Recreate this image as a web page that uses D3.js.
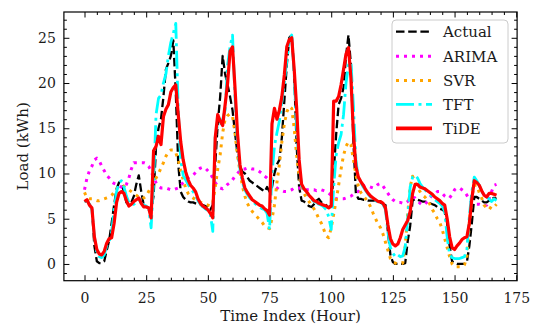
<!DOCTYPE html>
<html><head><meta charset="utf-8">
<script src="https://cdn.jsdelivr.net/npm/d3@7"></script>
<style>
body{margin:0;background:#fff}
svg{display:block}
text{font-family:"DejaVu Serif",serif;fill:#1a1a1a}
</style>
</head><body>
<svg id="c" width="533" height="327"></svg>
<script>
const hours = d3.range(168);
const actual = [
6.9,7.0,6.6,6.3,2.0,0.3,0.1,0.1,0.3,1.5,
2.6,4.5,6.5,8.3,9.0,8.8,8.0,6.8,6.5,6.8,
7.5,8.8,9.8,8.0,6.5,6.3,6.2,6.0,7.5,13.0,
15.0,16.0,18.5,21.5,22.2,23.0,24.7,19.0,11.0,8.0,
7.4,7.1,6.9,6.8,6.8,6.7,6.6,6.6,6.5,6.4,
6.3,6.0,6.5,11.0,15.5,18.5,23.0,21.0,19.8,18.5,
17.0,14.5,12.2,10.8,10.2,10.0,9.6,9.2,9.0,8.8,
8.6,8.4,8.2,8.0,8.5,8.0,8.5,10.0,11.0,11.5,
14.0,18.0,22.0,25.0,25.3,21.0,13.0,8.5,7.0,6.9,
6.6,6.4,6.3,6.6,7.0,7.2,6.8,6.7,6.5,6.2,
6.5,10.0,14.3,17.6,18.3,19.5,23.0,25.3,22.0,13.5,
7.8,7.2,7.2,7.1,7.1,7.0,7.0,7.0,7.0,6.9,
6.8,6.6,6.5,3.5,1.0,0.2,0.0,0.0,0.0,0.0,
0.1,2.5,4.2,7.0,7.2,7.1,7.0,6.9,6.9,6.8,
6.7,6.6,6.5,6.3,6.1,6.0,5.8,4.5,2.0,0.3,
0.1,0.0,0.0,0.0,0.0,0.2,2.0,4.5,7.4,7.4,
7.2,7.0,6.8,6.8,7.0,7.2,7.3,7.2];
const arima = [
8.2,9.5,10.3,10.8,11.5,11.7,11.4,10.8,10.3,9.8,
9.5,9.1,8.9,8.8,8.6,8.5,8.4,8.8,9.5,10.5,
11.2,11.2,11.2,11.2,11.2,11.1,10.8,10.3,9.5,9.0,
8.6,8.4,8.4,8.4,8.3,8.2,8.2,8.3,8.4,8.7,
9.0,9.3,9.5,9.7,9.8,10.1,10.4,10.6,10.7,10.6,
10.3,10.0,9.5,9.0,8.6,8.4,8.3,8.5,8.8,9.0,
9.3,9.7,10.0,10.3,10.5,10.5,10.6,10.6,10.5,10.5,
10.4,10.2,10.0,9.7,9.5,9.2,8.9,8.6,8.4,8.2,
8.1,8.0,8.0,8.1,8.2,8.4,8.4,8.4,8.3,8.2,
8.2,8.2,8.2,8.2,8.1,8.2,8.2,8.1,8.0,7.8,
7.6,7.4,7.2,7.2,7.2,7.2,7.3,7.4,7.5,7.7,
7.9,8.0,8.4,8.6,8.7,8.6,8.5,8.4,8.5,8.8,
8.9,8.6,8.2,7.8,7.4,7.1,6.9,6.8,6.8,6.7,
6.7,6.9,7.2,7.4,7.3,7.0,6.7,6.5,6.6,6.9,
7.3,7.6,7.8,8.0,8.0,7.8,7.5,7.3,7.3,7.7,
8.2,8.4,8.4,8.2,8.0,7.6,7.1,6.8,6.6,6.6,
6.6,6.5,6.4,6.5,7.2,8.0,8.7,8.8];
const svr = [
7.9,7.3,7.2,7.2,7.1,7.0,7.0,7.1,7.2,7.3,
7.4,7.6,7.9,8.3,8.6,8.7,8.6,8.4,8.2,8.0,
7.8,7.6,7.4,7.2,7.3,7.5,8.0,8.5,9.0,9.5,
10.0,10.6,11.2,11.9,12.4,12.6,12.6,12.3,11.5,10.3,
9.3,8.4,7.8,7.5,7.3,7.1,6.9,6.8,6.7,6.6,
6.5,6.4,6.8,8.5,10.5,12.1,14.5,16.0,16.4,16.6,
16.3,14.5,12.0,10.3,8.6,7.5,6.7,6.2,5.8,5.5,
5.2,4.9,4.6,4.2,4.0,3.9,5.0,6.5,9.0,11.0,
13.5,15.5,16.8,17.4,17.2,15.0,12.0,9.8,8.5,7.8,
7.3,6.9,6.5,6.1,5.6,5.0,4.5,3.8,3.1,2.9,
4.0,5.5,7.0,8.7,10.5,12.0,13.0,13.5,13.2,11.5,
9.9,8.6,7.9,7.5,7.2,6.8,6.3,5.6,5.0,4.4,
4.0,3.3,2.4,1.5,0.6,0.2,0.1,0.0,0.0,0.1,
2.0,5.5,8.5,9.7,9.0,8.4,8.0,7.6,7.4,7.0,
6.6,6.0,5.6,5.0,4.6,3.8,2.8,1.8,0.8,0.0,
-0.3,-0.3,-0.3,-0.3,-0.1,0.7,4.5,7.4,8.7,8.7,
7.9,7.3,6.5,6.2,6.0,6.4,6.3,6.6];
const tft = [
6.9,7.0,6.6,6.0,3.0,1.2,0.8,0.7,1.0,2.0,
2.5,3.5,6.0,8.0,9.0,9.2,8.5,7.5,6.8,6.5,
6.6,6.8,7.2,6.7,6.5,6.4,6.2,4.0,9.0,16.5,
18.3,18.7,20.0,21.0,23.0,24.5,25.5,26.6,17.0,11.5,
9.8,9.3,8.8,8.3,8.0,7.6,7.0,6.6,6.3,6.1,
5.9,5.5,3.6,14.0,15.5,15.5,16.0,17.0,22.0,24.0,
25.3,18.5,13.5,10.5,9.0,8.2,7.7,7.3,7.0,6.7,
6.5,6.3,6.1,6.0,5.6,3.8,10.0,13.0,14.5,15.8,
18.0,20.0,22.5,24.6,25.3,20.9,15.0,11.0,8.6,8.2,
7.9,7.5,7.2,6.9,6.8,6.6,6.5,6.3,6.0,5.2,
3.8,8.5,12.0,13.4,14.3,16.5,20.0,22.0,22.3,17.5,
11.5,9.5,9.0,8.5,8.1,7.7,7.4,7.2,7.0,6.8,
6.8,6.6,6.0,3.5,1.8,1.2,0.8,1.0,0.8,0.9,
1.9,5.0,8.5,9.6,9.8,9.5,8.9,8.5,8.2,7.9,
7.7,7.4,7.1,6.9,6.7,6.4,5.8,3.0,1.0,0.7,
0.6,0.6,0.6,0.7,0.8,1.6,5.3,8.0,9.6,9.2,
8.7,8.0,7.6,7.4,7.2,6.9,7.2,7.0];
const tide = [
6.9,7.1,6.5,6.2,3.0,1.6,1.1,1.0,1.4,2.3,
2.8,2.9,4.5,6.8,7.8,8.0,7.8,7.0,6.4,6.6,
6.9,7.1,7.3,6.7,6.3,6.3,6.2,5.1,12.5,13.0,
14.1,13.2,16.3,17.1,17.6,19.0,19.5,19.8,16.5,13.5,
11.5,10.2,9.3,8.7,8.4,8.0,7.2,6.7,6.4,6.2,
6.0,5.6,5.1,14.0,16.5,15.8,15.3,17.6,20.0,23.5,
24.0,19.5,14.5,11.0,9.5,8.4,7.9,7.5,7.1,6.9,
6.7,6.5,6.4,6.1,5.9,5.4,15.5,17.2,16.0,17.0,
18.5,20.9,24.0,24.8,25.0,21.5,17.2,11.5,8.8,8.3,
8.0,7.6,7.3,7.0,6.9,6.7,6.6,6.5,6.4,6.2,
6.4,18.0,18.0,18.5,19.8,21.5,23.2,23.9,20.5,14.5,
10.8,9.6,9.1,8.7,8.2,7.8,7.5,7.3,7.1,6.9,
6.9,6.7,6.2,4.3,2.8,2.2,2.0,2.2,2.9,3.8,
4.3,4.8,5.8,7.8,8.8,8.8,8.5,8.4,8.3,8.1,
7.9,7.7,7.4,7.2,7.0,6.7,6.5,5.0,3.0,1.8,
1.6,2.0,2.3,2.7,2.9,3.0,4.5,7.2,9.2,9.0,
8.7,8.1,7.6,7.4,7.8,7.8,7.7,7.6];
const xTicks = [0,25,50,75,100,125,150,175];
const yTicks = [0,5,10,15,20,25];
const seriesNames = ["Actual","ARIMA","SVR","TFT","TiDE"];

const series = [
  {name:seriesNames[0], vals:actual, color:"#000000", w:2.3, dash:"8.5,3.7"},
  {name:seriesNames[1], vals:arima, color:"#ff00ff", w:3, dash:"3,5"},
  {name:seriesNames[2], vals:svr, color:"#ffa500", w:3, dash:"3,5"},
  {name:seriesNames[3], vals:tft, color:"#00ffff", w:2.8, dash:"18,4.5,3,4.5"},
  {name:seriesNames[4], vals:tide, color:"#ff0000", w:3.2, dash:null}
];

const L=63.9, R=517.1, T=12, B=280.7;
const x = d3.scaleLinear().domain([-8.35,175.35]).range([L,R]);
const y = d3.scaleLinear().domain([-1.85,27.85]).range([B,T]);
const svg = d3.select("#c");

svg.append("defs").append("clipPath").attr("id","clip")
  .append("rect").attr("x",L).attr("y",T).attr("width",R-L).attr("height",B-T);

const g = svg.append("g").attr("clip-path","url(#clip)");
const line = d3.line().x((d,i)=>x(hours[i])).y(d=>y(d));
series.forEach(s=>{
  const p = g.append("path").datum(s.vals).attr("d",line)
    .attr("fill","none").attr("stroke",s.color).attr("stroke-width",s.w)
    .attr("stroke-linejoin","round");
  if(s.dash) p.attr("stroke-dasharray",s.dash);
});

// axes
const xMinor = d3.range(0,176,5).filter(v=>v%25!==0);
const yMinor = d3.range(-1,28,1).filter(v=>v%5!==0);
function styleAxis(sel){
  sel.select(".domain").remove();
  sel.selectAll(".tick line").attr("stroke","#000").attr("stroke-width",1);
  sel.selectAll(".tick text").style("font-family","DejaVu Serif").style("font-size","14px").attr("fill","#1a1a1a");
}
const ax1 = svg.append("g").attr("transform",`translate(0,${B})`)
  .call(d3.axisBottom(x).tickValues(xTicks).tickSize(-5.5).tickPadding(12).tickFormat(d3.format("d")));
styleAxis(ax1);
const ax1m = svg.append("g").attr("transform",`translate(0,${B})`)
  .call(d3.axisBottom(x).tickValues(xMinor).tickSize(-3).tickFormat(""));
styleAxis(ax1m);
const ax2 = svg.append("g").attr("transform",`translate(0,${T})`)
  .call(d3.axisTop(x).tickValues(xTicks).tickSize(-5.5).tickFormat(""));
styleAxis(ax2);
const ax2m = svg.append("g").attr("transform",`translate(0,${T})`)
  .call(d3.axisTop(x).tickValues(xMinor).tickSize(-3).tickFormat(""));
styleAxis(ax2m);
const ay1 = svg.append("g").attr("transform",`translate(${L},0)`)
  .call(d3.axisLeft(y).tickValues(yTicks).tickSize(-5.5).tickPadding(8).tickFormat(d3.format("d")));
styleAxis(ay1);
const ay1m = svg.append("g").attr("transform",`translate(${L},0)`)
  .call(d3.axisLeft(y).tickValues(yMinor).tickSize(-3).tickFormat(""));
styleAxis(ay1m);
const ay2 = svg.append("g").attr("transform",`translate(${R},0)`)
  .call(d3.axisRight(y).tickValues(yTicks).tickSize(-5.5).tickFormat(""));
styleAxis(ay2);
const ay2m = svg.append("g").attr("transform",`translate(${R},0)`)
  .call(d3.axisRight(y).tickValues(yMinor).tickSize(-3).tickFormat(""));
styleAxis(ay2m);

svg.append("rect").attr("x",L).attr("y",T).attr("width",R-L).attr("height",B-T)
  .attr("fill","none").attr("stroke","#000").attr("stroke-width",1.2);

svg.append("text").attr("x",(L+R)/2).attr("y",321).attr("text-anchor","middle")
  .style("font-size","15px").text("Time Index (Hour)");
svg.append("text").attr("transform",`translate(28,${(T+B)/2}) rotate(-90)`)
  .attr("text-anchor","middle").style("font-size","15px").text("Load (kWh)");

// legend
const lg = svg.append("g");
lg.append("rect").attr("x",392).attr("y",20).attr("width",116).attr("height",123)
  .attr("rx",4).attr("fill","#fff").attr("fill-opacity",0.8)
  .attr("stroke","#cccccc").attr("stroke-width",1);
const rowY = [31.7,56.3,80.6,104.4,128.4];
series.forEach((s,i)=>{
  const l = lg.append("line").attr("x1",396).attr("x2",432).attr("y1",rowY[i]).attr("y2",rowY[i])
    .attr("stroke",s.color).attr("stroke-width",s.w+ (i===4?0.6:0));
  if(s.dash) l.attr("stroke-dasharray",s.dash);
  lg.append("text").attr("x",443).attr("y",rowY[i]+5.5).style("font-size","15px").text(s.name);
});
</script>
</body></html>
